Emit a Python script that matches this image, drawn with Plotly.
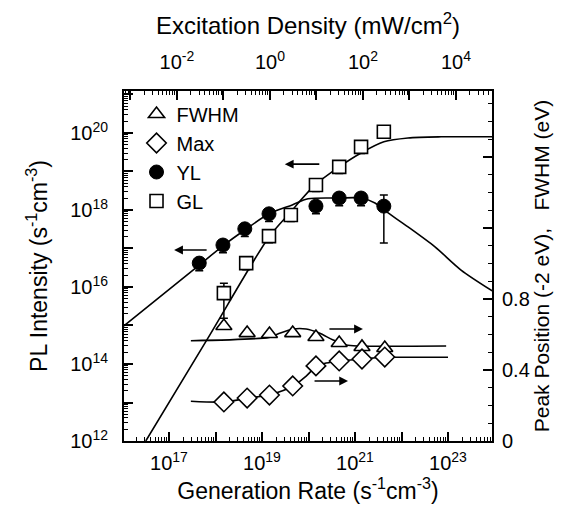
import plotly.graph_objects as go

# ---------------- data ----------------
# generation rate of the measured points (log10, s^-1 cm^-3)
logG_GL = [18.18, 18.66, 19.15, 19.62, 20.16, 20.66, 21.13, 21.62]
logI_GL = [15.84, 16.62, 17.32, 17.87, 18.65, 19.12, 19.64, 20.03]
GL_err_up = [0.26, 0.10, 0.10, 0.10, 0.10, 0.10, 0.10, 0.10]
GL_err_dn = [0.65, 0.17, 0.17, 0.17, 0.17, 0.17, 0.17, 0.17]

logG_YL = [17.65, 18.16, 18.63, 19.15, 20.16, 20.66, 21.13, 21.62]
logI_YL = [16.62, 17.09, 17.51, 17.90, 18.10, 18.31, 18.31, 18.10]
YL_err_up = [0.10, 0.10, 0.10, 0.10, 0.10, 0.10, 0.10, 0.29]
YL_err_dn = [0.20, 0.20, 0.20, 0.20, 0.20, 0.20, 0.20, 0.96]

logG_R = [18.18, 18.68, 19.16, 19.66, 20.16, 20.66, 21.15, 21.64]
FWHM = [0.648, 0.608, 0.603, 0.608, 0.586, 0.552, 0.530, 0.524]
MAX = [0.220, 0.242, 0.259, 0.310, 0.423, 0.451, 0.462, 0.473]

# fitted curves
logG_YLfit = [16.03, 17.65, 18.16, 18.63, 19.15, 19.65, 19.99, 20.66, 21.13, 21.43, 21.62, 22.14, 22.72, 23.28, 23.95]
logI_YLfit = [14.99, 16.57, 17.07, 17.48, 17.90, 18.13, 18.29, 18.31, 18.31, 18.18, 18.00, 17.56, 17.04, 16.44, 15.90]

logG_GLfit = [16.50, 17.84, 19.15, 19.58, 20.14, 20.66, 21.13, 21.62, 22.14, 22.85, 23.95]
logI_GLfit = [12.00, 14.68, 17.30, 17.90, 18.65, 19.12, 19.48, 19.77, 19.87, 19.90, 19.90]

logG_FWfit = [17.47, 19.15, 19.34, 19.67, 19.95, 20.23, 20.53, 20.81, 21.09, 22.96]
FW_fit = [0.565, 0.584, 0.603, 0.631, 0.631, 0.608, 0.569, 0.541, 0.535, 0.535]

logG_MXfit = [17.47, 18.20, 18.70, 19.17, 19.67, 19.95, 20.18, 20.38, 20.68, 21.17, 21.65, 21.82, 23.00]
MX_fit = [0.224, 0.220, 0.242, 0.261, 0.310, 0.366, 0.423, 0.439, 0.451, 0.462, 0.473, 0.472, 0.472]

x_tick_exp = list(range(16, 25))
y_tick_exp = list(range(12, 22))
top_tick_exp = list(range(-4, 6))
right_ticks = [0, 0.4, 0.8, 1.2, 1.6]
right_labels = ["0", "0.4", "0.8", "", ""]

X_RANGE = [16.032, 23.946]
TOP_SHIFT = 19.17
Y_RANGE = [12.0, 21.09]
Y2_RANGE = [0, 1.972]

FONT = "Arial, Liberation Sans, Helvetica, sans-serif"

def p10(v):
    return [10.0 ** a for a in v]

G_GL = p10(logG_GL); I_GL = p10(logI_GL)
G_YL = p10(logG_YL); I_YL = p10(logI_YL)
G_R = p10(logG_R)

def err(vals, d, up=True):
    return [v * (10.0 ** e - 1) if up else v * (1 - 10.0 ** (-e)) for v, e in zip(vals, d)]

fig = go.Figure()

line_style = dict(color="black", width=1.6)

fig.add_trace(go.Scatter(x=p10(logG_YLfit), y=p10(logI_YLfit), mode="lines",
                         line=dict(shape="spline", smoothing=0.8, **line_style),
                         showlegend=False, hoverinfo="skip"))
fig.add_trace(go.Scatter(x=p10(logG_GLfit), y=p10(logI_GLfit), mode="lines",
                         line=dict(shape="spline", smoothing=0.8, **line_style),
                         showlegend=False, hoverinfo="skip"))
fig.add_trace(go.Scatter(x=p10(logG_FWfit), y=FW_fit, mode="lines", yaxis="y2",
                         line=dict(shape="spline", smoothing=0.8, **line_style),
                         showlegend=False, hoverinfo="skip"))
fig.add_trace(go.Scatter(x=p10(logG_MXfit), y=MX_fit, mode="lines", yaxis="y2",
                         line=dict(shape="spline", smoothing=0.8, **line_style),
                         showlegend=False, hoverinfo="skip"))

fig.add_trace(go.Scatter(x=G_R, y=FWHM, mode="markers", name="FWHM", yaxis="y2",
                         marker=dict(symbol="triangle-up", size=14, color="white",
                                     line=dict(color="black", width=1.6))))
fig.add_trace(go.Scatter(x=G_R, y=MAX, mode="markers", name="Max", yaxis="y2",
                         marker=dict(symbol="diamond", size=15, color="white",
                                     line=dict(color="black", width=1.6))))
fig.add_trace(go.Scatter(x=G_YL, y=I_YL, mode="markers", name="YL",
                         marker=dict(symbol="circle", size=14, color="black",
                                     line=dict(color="black", width=1)),
                         error_y=dict(type="data", symmetric=False,
                                      array=err(I_YL, YL_err_up, True),
                                      arrayminus=err(I_YL, YL_err_dn, False),
                                      color="black", thickness=1.5, width=4)))
fig.add_trace(go.Scatter(x=G_GL, y=I_GL, mode="markers", name="GL",
                         marker=dict(symbol="square", size=13, color="white",
                                     line=dict(color="black", width=1.6)),
                         error_y=dict(type="data", symmetric=False,
                                      array=err(I_GL, GL_err_up, True),
                                      arrayminus=err(I_GL, GL_err_dn, False),
                                      color="black", thickness=1.5, width=4)))
# anchor for the top axis
fig.add_trace(go.Scatter(x=[1e-2], y=[None], xaxis="x2", mode="markers",
                         showlegend=False, hoverinfo="skip"))

def minor_vals(exps):
    out = []
    for k in exps:
        for m in range(2, 10):
            out.append(m * 10.0 ** k)
    return out

def log_ticks(exps, labeled):
    return dict(tickvals=[10.0 ** k for k in exps],
                ticktext=[("10<sup>%d</sup>" % k) if k in labeled else "" for k in exps])

tick_font = dict(family=FONT, size=20, color="black")
title_font = dict(family=FONT, size=23, color="black")

common = dict(showline=True, linecolor="black", linewidth=2, ticks="inside",
              ticklen=9, tickwidth=1.5, tickcolor="black", showgrid=False,
              zeroline=False, tickfont=tick_font, mirror=False)

fig.update_layout(
    width=564, height=508,
    margin=dict(l=116, r=80, t=83, b=75),
    paper_bgcolor="white", plot_bgcolor="white",
    font=dict(family=FONT, color="black"),
    xaxis=dict(type="log", range=X_RANGE,
               **log_ticks(x_tick_exp, [17, 19, 21, 23]),
               minor=dict(tickvals=minor_vals(x_tick_exp), ticks="inside", ticklen=4,
                          tickwidth=1, tickcolor="black"),
               ticklabelstandoff=3,
               title=dict(text="Generation Rate (s<sup>-1</sup>cm<sup>-3</sup>)",
                          font=title_font, standoff=7),
               **common),
    xaxis2=dict(type="log", overlaying="x", side="top",
                range=[X_RANGE[0] - TOP_SHIFT, X_RANGE[1] - TOP_SHIFT],
                **log_ticks(top_tick_exp, [-2, 0, 2, 4]),
                minor=dict(tickvals=minor_vals(top_tick_exp), ticks="inside", ticklen=4,
                           tickwidth=1, tickcolor="black"),
                ticklabelstandoff=12,
                title=dict(text="Excitation Density (mW/cm<sup>2</sup>)",
                           font=dict(family=FONT, size=24, color="black"), standoff=6),
                **common),
    yaxis=dict(type="log", range=Y_RANGE,
               **log_ticks(y_tick_exp, [12, 14, 16, 18, 20]),
               minor=dict(tickvals=minor_vals(y_tick_exp), ticks="inside", ticklen=4,
                          tickwidth=1, tickcolor="black"),
               ticklabelstandoff=10,
               title=dict(text="PL Intensity (s<sup>-1</sup>cm<sup>-3</sup>)",
                          font=title_font, standoff=16),
               **common),
    yaxis2=dict(overlaying="y", side="right", range=Y2_RANGE,
                tickvals=right_ticks, ticktext=right_labels,
                minor=dict(dtick=0.1, ticks="inside", ticklen=4, tickwidth=1,
                           tickcolor="black"),
                ticklabelstandoff=4,
                title=dict(text="Peak Position (-2 eV),&nbsp;&nbsp;&nbsp;FWHM (eV)",
                           font=dict(family=FONT, size=21, color="black"), standoff=0),
                **common),
    legend=dict(x=0.034, y=0.99, xanchor="left", yanchor="top",
                font=dict(family=FONT, size=20, color="black"),
                bgcolor="rgba(0,0,0,0)", tracegroupgap=0, itemwidth=30),
)

arrow = dict(showarrow=True, arrowhead=2, arrowsize=1.1, arrowwidth=1.6,
             arrowcolor="black", text="", ay=0)
fig.add_annotation(x=17.11, y=16.96, xref="x", yref="y", ax=34, **arrow)
fig.add_annotation(x=19.49, y=19.19, xref="x", yref="y", ax=36, **arrow)
fig.add_annotation(x=21.17, y=0.631, xref="x", yref="y2", ax=-35, **arrow)
fig.add_annotation(x=20.85, y=0.338, xref="x", yref="y2", ax=-35, **arrow)

fig.write_html("out.html")
